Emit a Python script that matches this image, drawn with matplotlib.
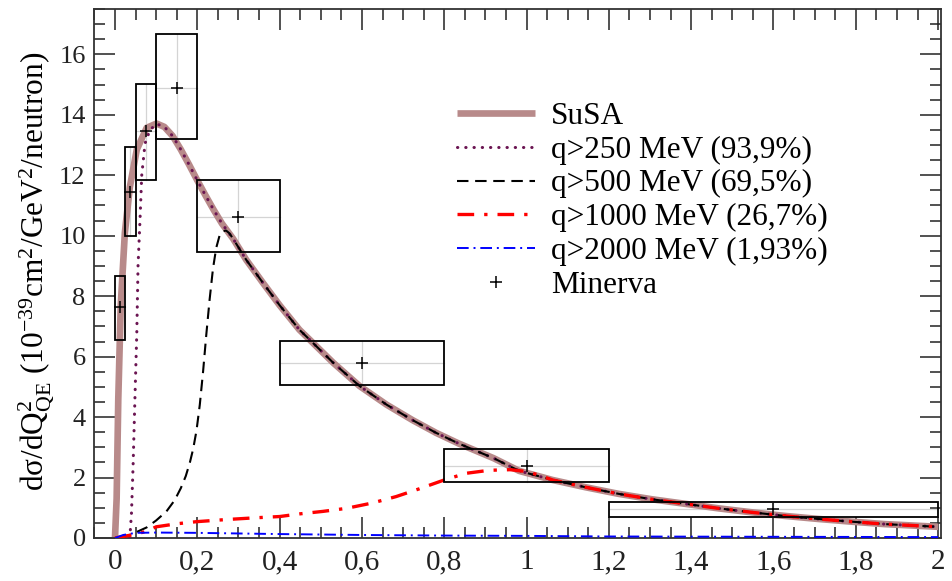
import matplotlib
matplotlib.use("Agg")
import matplotlib.pyplot as plt
from matplotlib.patches import Rectangle
from matplotlib.ticker import MultipleLocator, FuncFormatter

plt.rcParams['font.family'] = ['Liberation Serif', 'DejaVu Serif']
plt.rcParams['mathtext.fontset'] = 'custom'
plt.rcParams['mathtext.rm'] = 'Liberation Serif'
plt.rcParams['mathtext.it'] = 'Liberation Serif:italic'

# SuSA prediction, dsigma/dQ2 vs Q2 (GeV^2)
susa_q2 = [0.0, 0.004, 0.008, 0.014, 0.024, 0.036, 0.053, 0.077, 0.101, 0.12,
           0.14, 0.16, 0.18, 0.20, 0.22, 0.24, 0.26, 0.287, 0.319, 0.36,
           0.40, 0.448, 0.473, 0.53, 0.594, 0.66, 0.723, 0.78, 0.836, 0.92,
           0.982, 1.063, 1.143, 1.224, 1.305, 1.386, 1.467, 1.547, 1.628,
           1.709, 1.79, 1.87, 2.0]
susa_val = [0.0, 1.3, 4.6, 7.7, 10.1, 11.6, 12.85, 13.57, 13.71, 13.6,
            13.3, 12.85, 12.35, 11.83, 11.33, 10.85, 10.4, 9.9, 9.2, 8.43,
            7.7, 6.89, 6.56, 5.8, 5.03, 4.41, 3.9, 3.48, 3.12, 2.64,
            2.22, 1.92, 1.68, 1.46, 1.28, 1.13, 0.98, 0.85, 0.73,
            0.63, 0.54, 0.46, 0.37]

# Contribution from q > 250 MeV
q250_q2 = [0.036, 0.040, 0.044, 0.048, 0.053, 0.056, 0.061, 0.065, 0.073, 0.085,
           0.101, 0.12, 0.14, 0.16, 0.18, 0.20, 0.22, 0.24, 0.26, 0.287,
           0.319, 0.36, 0.40, 0.448, 0.473, 0.53, 0.594, 0.66, 0.723, 0.78,
           0.836, 0.92, 0.982, 1.063, 1.143, 1.224, 1.305, 1.386, 1.467,
           1.547, 1.628, 1.709, 1.79, 1.87, 2.0]
q250_val = [0.0, 0.8, 2.4, 4.4, 6.8, 9.0, 10.6, 12.0, 13.05, 13.5,
            13.7, 13.6, 13.3, 12.85, 12.35, 11.83, 11.33, 10.85, 10.4, 9.9,
            9.2, 8.43, 7.7, 6.89, 6.56, 5.8, 5.03, 4.41, 3.9, 3.48,
            3.12, 2.64, 2.22, 1.92, 1.68, 1.46, 1.28, 1.13, 0.98,
            0.85, 0.73, 0.63, 0.54, 0.46, 0.37]

# Contribution from q > 500 MeV
q500_q2 = [0.012, 0.04, 0.077, 0.1, 0.125, 0.145, 0.16, 0.172, 0.182, 0.19,
           0.198, 0.206, 0.214, 0.222, 0.23, 0.238, 0.246, 0.254, 0.262,
           0.27, 0.278, 0.287, 0.319, 0.36, 0.40, 0.448, 0.473, 0.53, 0.594,
           0.66, 0.723, 0.78, 0.836, 0.92, 0.982, 1.063, 1.143, 1.224,
           1.305, 1.386, 1.467, 1.547, 1.628, 1.709, 1.79, 1.87, 2.0]
q500_val = [0.0, 0.12, 0.35, 0.58, 0.88, 1.25, 1.65, 2.05, 2.5, 2.95,
            3.55, 4.4, 5.5, 6.75, 7.9, 8.9, 9.6, 10.0, 10.15,
            10.17, 10.08, 9.9, 9.2, 8.43, 7.7, 6.89, 6.56, 5.8, 5.03,
            4.41, 3.9, 3.48, 3.12, 2.64, 2.22, 1.92, 1.68, 1.46,
            1.28, 1.13, 0.98, 0.85, 0.73, 0.63, 0.54, 0.46, 0.37]

# Contribution from q > 1000 MeV
q1000_q2 = [0.0, 0.04, 0.077, 0.1, 0.15, 0.198, 0.27, 0.343, 0.4, 0.45, 0.505,
            0.562, 0.626, 0.683, 0.74, 0.8, 0.853, 0.909, 0.96, 1.0, 1.03,
            1.063, 1.143, 1.224, 1.305, 1.386, 1.467, 1.547, 1.628, 1.709,
            1.79, 1.87, 2.0]
q1000_val = [0.0, 0.1, 0.22, 0.37, 0.47, 0.54, 0.61, 0.67, 0.71, 0.8, 0.88,
             0.98, 1.16, 1.37, 1.63, 1.92, 2.14, 2.24, 2.26, 2.2, 2.08,
             1.92, 1.68, 1.46, 1.28, 1.13, 0.98, 0.85, 0.73, 0.63,
             0.54, 0.46, 0.37]

# Contribution from q > 2000 MeV
q2000_q2 = [0.0, 0.02, 0.05, 0.1, 0.2, 0.4, 0.6, 0.8, 1.0, 1.2, 1.6, 2.0]
q2000_val = [0.0, 0.1, 0.17, 0.18, 0.17, 0.13, 0.1, 0.08, 0.07, 0.05, 0.04, 0.03]

# MINERvA data: bin edges, central values, and error-band limits
minerva_lo = [0.0, 0.025, 0.05, 0.1, 0.2, 0.4, 0.8, 1.2]
minerva_hi = [0.025, 0.05, 0.1, 0.2, 0.4, 0.8, 1.2, 2.0]
minerva_x = [0.0125, 0.0375, 0.075, 0.15, 0.3, 0.6, 1.0, 1.6]
minerva_y = [7.64, 11.45, 13.48, 14.9, 10.62, 5.80, 2.39, 0.95]
minerva_ylo = [6.56, 10.0, 11.84, 13.2, 9.45, 5.07, 1.86, 0.69]
minerva_yhi = [8.66, 12.95, 15.03, 16.66, 11.83, 6.53, 2.95, 1.20]

legend_labels = ['SuSA', 'q>250 MeV (93,9%)', 'q>500 MeV (69,5%)',
                 'q>1000 MeV (26,7%)', 'q>2000 MeV (1,93%)', 'Minerva']

fig = plt.figure(figsize=(9.52, 5.81), dpi=100)
ax = fig.add_axes([94 / 952, 43 / 581, 847 / 952, 529 / 581])

# data bands with cross-hairs
for lo, hi, xc, yc, ylo, yhi in zip(minerva_lo, minerva_hi, minerva_x,
                                     minerva_y, minerva_ylo, minerva_yhi):
    ax.plot([lo, hi], [yc, yc], color='#d4d4d4', lw=0.9, zorder=1)
    ax.plot([xc, xc], [ylo, yhi], color='#d4d4d4', lw=0.9, zorder=1)
    ax.add_patch(Rectangle((lo, ylo), hi - lo, yhi - ylo, fill=False,
                           edgecolor='black', lw=1.3, zorder=5))

l_susa, = ax.plot(susa_q2, susa_val, color='#b88a8a', lw=4.8,
                  solid_capstyle='butt', solid_joinstyle='round', zorder=2)
l_250, = ax.plot(q250_q2, q250_val, color='#6b1552', lw=2.2,
                 linestyle=(0, (0.1, 2.6)), dash_capstyle='round', zorder=3)
l_500, = ax.plot(q500_q2, q500_val, color='black', lw=1.5,
                 linestyle=(0, (5.5, 3.2)), zorder=3)
l_1000, = ax.plot(q1000_q2, q1000_val, color='#ff0000', lw=2.4,
                  linestyle=(0, (5, 3, 1, 3)), zorder=3)
l_2000, = ax.plot(q2000_q2, q2000_val, color='#0000ff', lw=1.4,
                  linestyle=(0, (6, 2.5, 1, 2.5)), zorder=3)
l_min, = ax.plot(minerva_x, minerva_y, linestyle='none', marker='+',
                 color='black', markersize=8, mew=1.1, zorder=6)

ax.set_xlim(-0.051, 2.007)
ax.set_ylim(0, 17.5)

ax.xaxis.set_major_locator(MultipleLocator(0.2))
ax.xaxis.set_minor_locator(MultipleLocator(0.05))
ax.yaxis.set_major_locator(MultipleLocator(2))
ax.yaxis.set_minor_locator(MultipleLocator(0.5))


def comma_fmt(v, pos):
    s = ('%.1f' % v).rstrip('0').rstrip('.')
    if s == '-0':
        s = '0'
    return s.replace('.', ',')


ax.xaxis.set_major_formatter(FuncFormatter(comma_fmt))
ax.tick_params(axis='both', which='both', direction='in', top=True,
               right=True, width=1.1, colors='#222222')
ax.tick_params(axis='x', labelsize=21, pad=8)
ax.tick_params(axis='y', labelsize=19, pad=6)
ax.tick_params(axis='both', which='major', length=15)
ax.tick_params(axis='both', which='minor', length=8)
for sp in ax.spines.values():
    sp.set_linewidth(1.3)
    sp.set_color('#333333')

fig.text(36 / 952, 1 - 271 / 581,
         'd\u03c3/dQ$^{2}_{\\mathrm{QE}}$ (10$^{-39}$cm$^{2}$/GeV$^{2}$/neutron)',
         rotation=90, ha='center', va='center', fontsize=22.5)

ax.legend([l_susa, l_250, l_500, l_1000, l_2000, l_min], legend_labels,
          loc='upper left', bbox_to_anchor=(0.414, 0.848), frameon=False,
          fontsize=22.5, handlelength=2.5, handletextpad=0.5,
          labelspacing=0.15, borderaxespad=0)

fig.savefig('out.png', dpi=100)
